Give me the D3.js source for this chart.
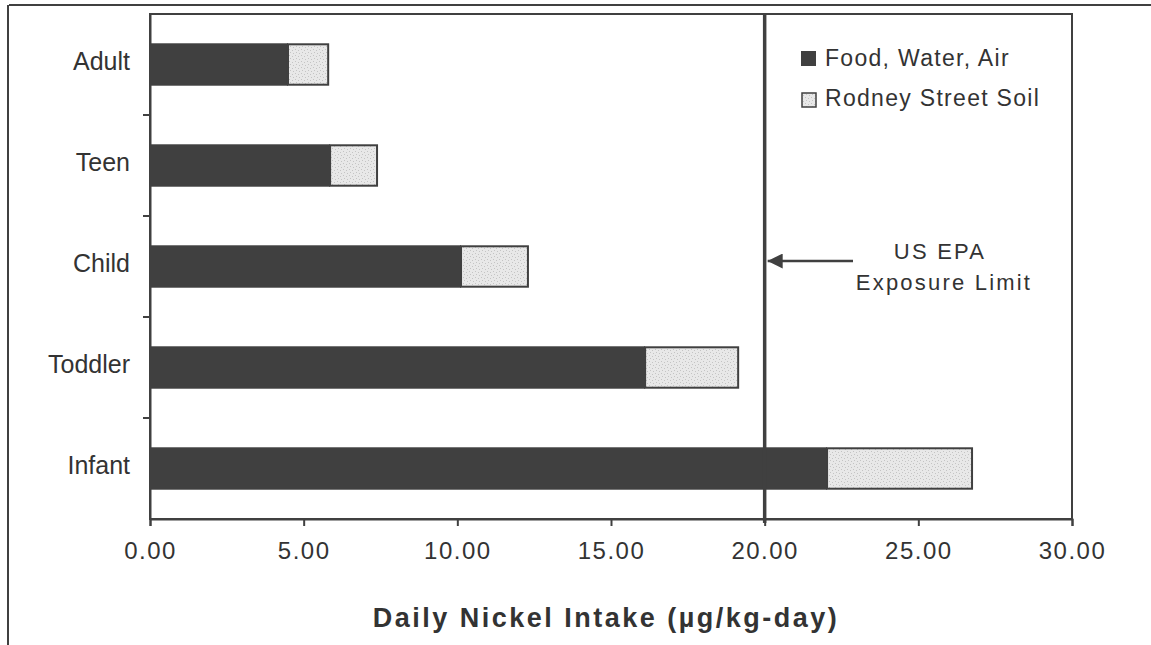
<!DOCTYPE html>
<html>
<head>
<meta charset="utf-8">
<script src="https://cdn.jsdelivr.net/npm/d3@7"></script>
<style>
  html, body { margin: 0; padding: 0; background: #fff; }
  svg { display: block; }
  text { font-family: "Liberation Sans", Arial, sans-serif; fill: #333; }
</style>
</head>
<body>
<svg id="chart" width="1151" height="645"></svg>
<script>
const categories = ["Adult", "Teen", "Child", "Toddler", "Infant"];
const foodWaterAir = [4.49, 5.86, 10.12, 16.11, 22.03];
const rodneySoil = [1.34, 1.56, 2.21, 3.06, 4.75];
const xTicks = [0, 5, 10, 15, 20, 25, 30];
const seriesNames = ["Food, Water, Air", "Rodney Street Soil"];
const epaLimit = 20;
const epaLabel = ["US EPA", "Exposure Limit"];
const axisTitle = "Daily Nickel Intake (\u00b5g/kg-day)";

const svg = d3.select("#chart");
const dark = "#404040";
const soilFill = "#e8e8e8";

const pLeft = 150, pRight = 1072, pTop = 14, pBottom = 519;
const x = d3.scaleLinear().domain([0, 30]).range([pLeft, pRight]);
const y = d3.scaleBand().domain(categories).range([pTop, pBottom]).paddingInner(0.58).paddingOuter(0.29);

// stipple pattern
const defs = svg.append("defs");
const pat = defs.append("pattern").attr("id", "stip").attr("patternUnits", "userSpaceOnUse")
  .attr("width", 6).attr("height", 6);
pat.append("rect").attr("width", 6).attr("height", 6).attr("fill", soilFill);
[[1,1],[4,2],[2,4],[5,5]].forEach(p => pat.append("rect").attr("x", p[0]).attr("y", p[1])
  .attr("width", 1).attr("height", 1).attr("fill", "#c4c4c4"));

// outer frame lines
svg.append("line").attr("x1", 9).attr("x2", 1151).attr("y1", 5).attr("y2", 5)
  .attr("stroke", dark).attr("stroke-width", 2);
svg.append("line").attr("x1", 8).attr("x2", 8).attr("y1", 5).attr("y2", 645)
  .attr("stroke", dark).attr("stroke-width", 2);

// plot frame
svg.append("rect").attr("x", pLeft).attr("y", pTop).attr("width", pRight - pLeft).attr("height", pBottom - pTop)
  .attr("fill", "none").attr("stroke", dark).attr("stroke-width", 2);

// bars
const g = svg.append("g");
categories.forEach((c, i) => {
  g.append("rect").attr("x", x(0)).attr("y", y(c)).attr("width", x(foodWaterAir[i]) - x(0))
    .attr("height", y.bandwidth()).attr("fill", dark);
  g.append("rect").attr("x", x(foodWaterAir[i])).attr("y", y(c) + 1)
    .attr("width", x(foodWaterAir[i] + rodneySoil[i]) - x(foodWaterAir[i]) - 1)
    .attr("height", y.bandwidth() - 2).attr("fill", "url(#stip)").attr("stroke", dark).attr("stroke-width", 2);
});

// y axis
const yAxis = svg.append("g").attr("transform", `translate(${pLeft},0)`)
  .call(d3.axisLeft(y).tickSize(0).tickPadding(20));
yAxis.select(".domain").attr("stroke", dark).attr("stroke-width", 2);
yAxis.selectAll("text").attr("font-size", 25).attr("fill", "#333").attr("dy", "0.22em");
// band boundary ticks
const bounds = categories.slice(1).map(c => y(c) - y.step() * y.paddingInner() / 2);
svg.append("g").selectAll("line").data(bounds).join("line")
  .attr("x1", pLeft - 7).attr("x2", pLeft).attr("y1", d => d).attr("y2", d => d)
  .attr("stroke", dark).attr("stroke-width", 2);

// x axis
const xAxis = svg.append("g").attr("transform", `translate(0,${pBottom})`)
  .call(d3.axisBottom(x).tickValues(xTicks).tickFormat(d3.format(".2f")).tickSize(7).tickPadding(16));
xAxis.select(".domain").attr("stroke", dark).attr("stroke-width", 2);
xAxis.selectAll(".tick line").attr("stroke", dark).attr("stroke-width", 2);
xAxis.selectAll("text").attr("font-size", 24).attr("fill", "#333").attr("letter-spacing", 1.5);

// EPA line
svg.append("line").attr("x1", x(epaLimit)).attr("x2", x(epaLimit)).attr("y1", pTop).attr("y2", pBottom + 4)
  .attr("stroke", dark).attr("stroke-width", 3.5);
defs.append("marker").attr("id", "arrow").attr("viewBox", "0 0 10 10").attr("refX", 10).attr("refY", 5)
  .attr("markerWidth", 6).attr("markerHeight", 6).attr("markerUnits", "strokeWidth").attr("orient", "auto")
  .append("path").attr("d", "M0,0 L10,5 L0,10 z").attr("fill", dark);
svg.append("line").attr("x1", 853).attr("x2", x(epaLimit) + 3).attr("y1", 261).attr("y2", 261)
  .attr("stroke", dark).attr("stroke-width", 2.5).attr("marker-end", "url(#arrow)");
svg.append("text").attr("x", 940).attr("y", 259).attr("text-anchor", "middle").attr("font-size", 22)
  .attr("letter-spacing", 2.2).text(epaLabel[0]);
svg.append("text").attr("x", 944).attr("y", 290).attr("text-anchor", "middle").attr("font-size", 22)
  .attr("letter-spacing", 2.2).text(epaLabel[1]);

// legend
const legend = svg.append("g");
legend.append("rect").attr("x", 801).attr("y", 51).attr("width", 15).attr("height", 15).attr("fill", dark);
legend.append("rect").attr("x", 802).attr("y", 93).attr("width", 14).attr("height", 14)
  .attr("fill", "url(#stip)").attr("stroke", dark).attr("stroke-width", 1.5);
legend.selectAll("text.lg").data(seriesNames).join("text").attr("class", "lg")
  .attr("x", 825).attr("y", (d, i) => 66 + i * 40).attr("font-size", 23).attr("letter-spacing", 1.3).text(d => d);

// axis title
svg.append("text").attr("x", 606).attr("y", 627).attr("text-anchor", "middle").attr("font-size", 27)
  .attr("font-weight", "bold").attr("letter-spacing", 2.5).text(axisTitle);
</script>
</body>
</html>
